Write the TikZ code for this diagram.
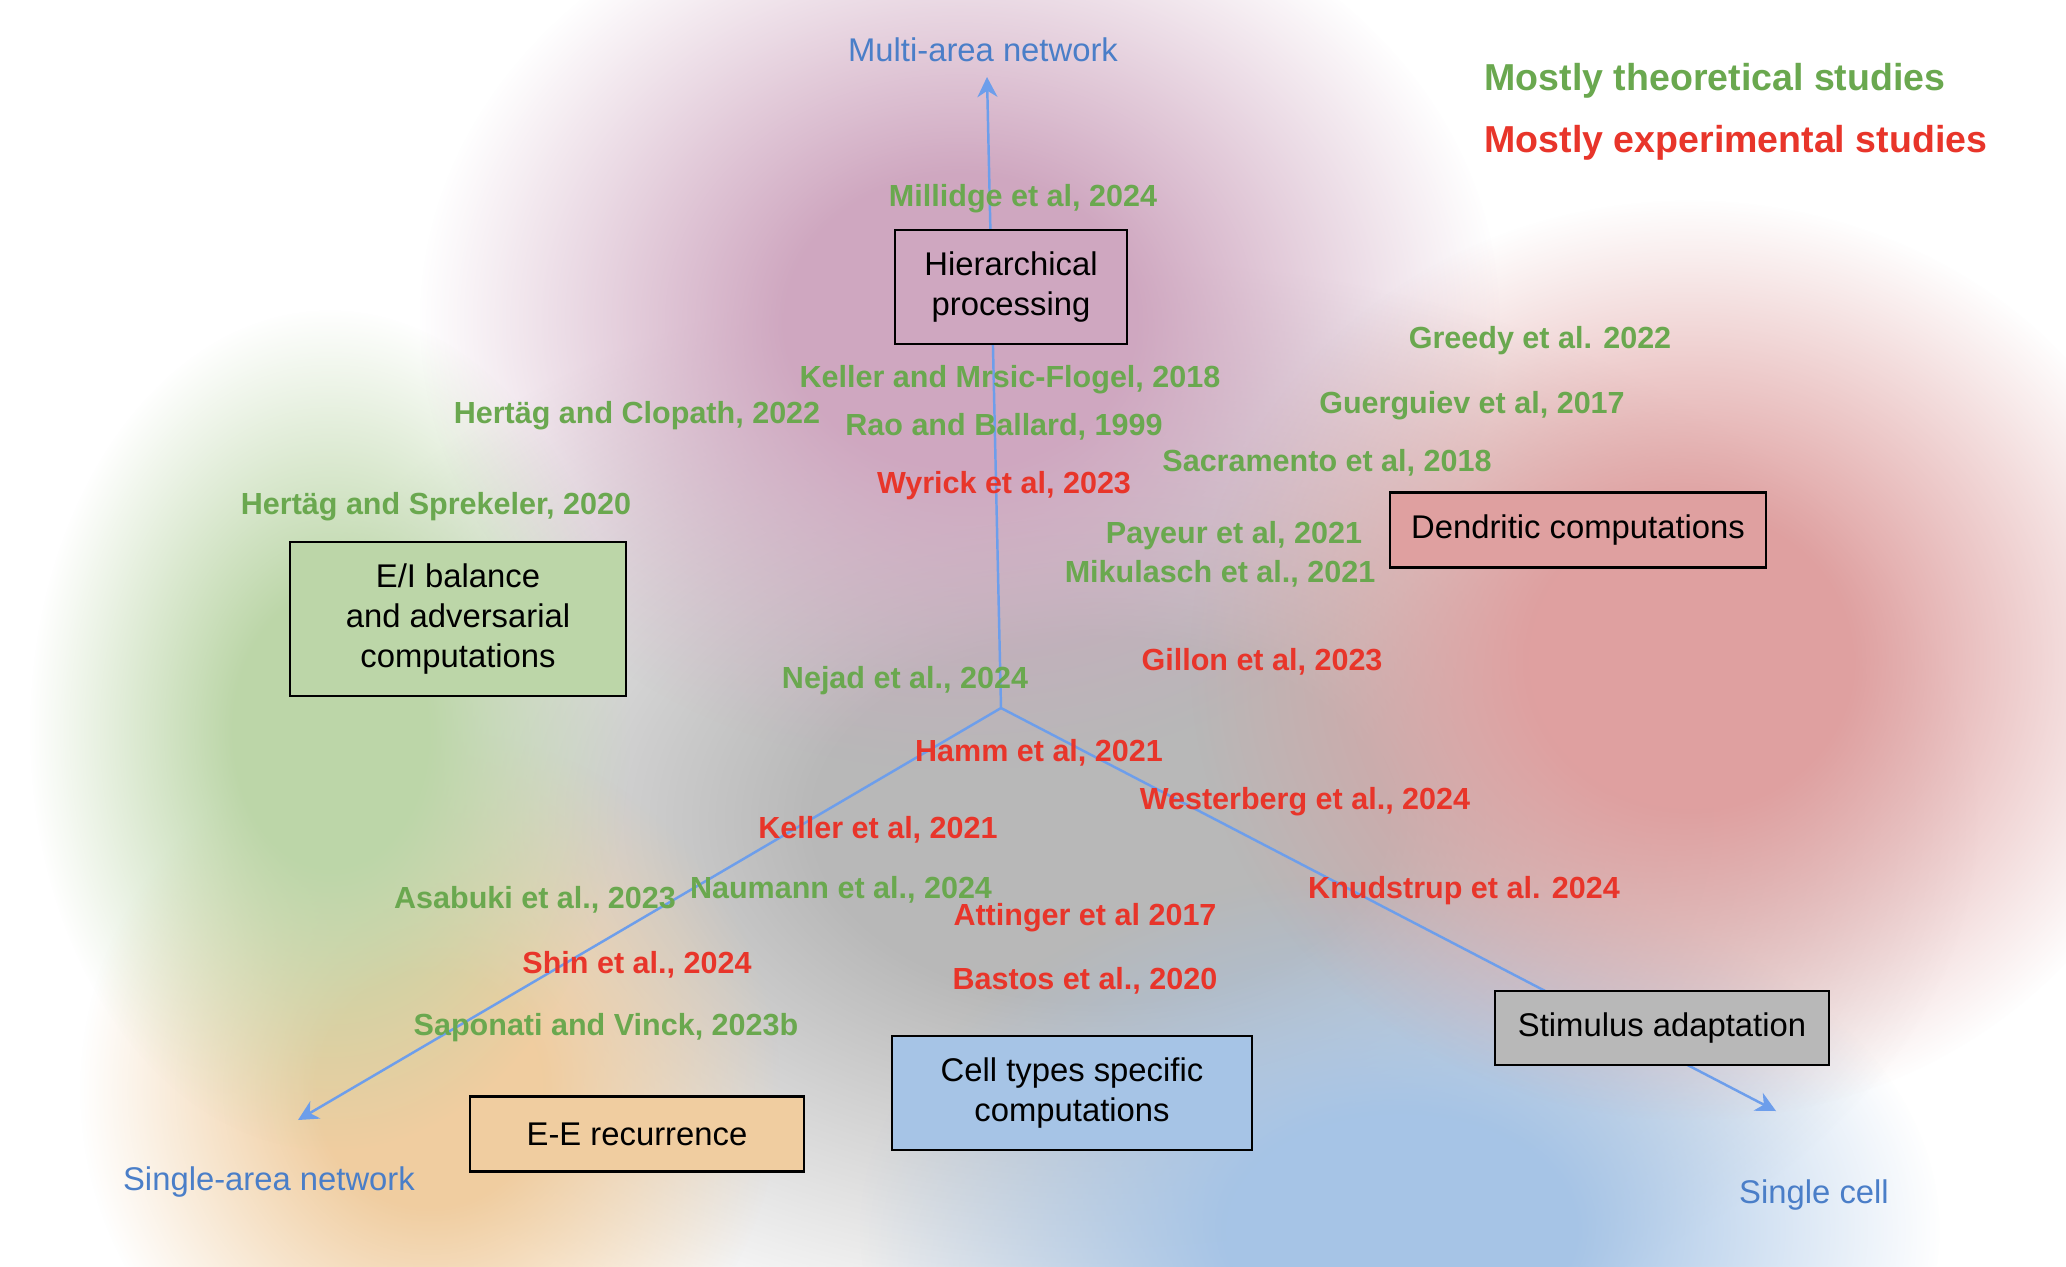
\documentclass[tikz,border=0pt]{standalone}
\usepackage{fontspec}
\setmainfont{Liberation Sans}
\usetikzlibrary{arrows.meta,fadings}

\definecolor{theorygreen}{HTML}{6AA84F}
\definecolor{exprred}{HTML}{E8352A}
\definecolor{axisblue}{HTML}{4A7EC8}
\definecolor{linkblue}{HTML}{6D9EEB}
\definecolor{hierfill}{HTML}{CFA7C0}
\definecolor{dendfill}{HTML}{DFA0A0}
\definecolor{eifill}{HTML}{BCD6A8}
\definecolor{eefill}{HTML}{F0CDA0}
\definecolor{cellfill}{HTML}{A6C4E6}
\definecolor{stimfill}{HTML}{B8B8B8}

\pgfdeclareradialshading{blobshading}{\pgfpointorigin}{color(0bp)=(white); color(8bp)=(white); color(25bp)=(black); color(50bp)=(black)}
\pgfdeclarefading{blobfade}{\pgfuseshading{blobshading}}

\begin{document}
\begin{tikzpicture}[x=0.01cm, y=-0.01cm,
    blob/.style={fill=#1, path fading=blobfade},
    topic/.style={draw=black, line width=0.6pt, fill=#1, align=center, inner sep=0pt,
        font=\fontsize{9.33}{11.4}\selectfont},
    theory/.style={text=theorygreen, inner sep=0pt, text height=6.25pt, text depth=0pt,
        font=\fontsize{8.68}{10}\selectfont\bfseries},
    expt/.style={theory, text=exprred},
    axislabel/.style={text=axisblue, inner sep=0pt, text height=6.7pt, text depth=0pt,
        font=\fontsize{9.33}{11}\selectfont},
    legend/.style={inner sep=0pt, anchor=west, text height=7.7pt, text depth=0pt,
        font=\fontsize{10.67}{12}\selectfont\bfseries},
    axis/.style={draw=linkblue, line width=0.7pt, -{Stealth[length=5.7pt, width=5.7pt, inset=1.8pt]}}]

    % Page and background blobs
    \useasboundingbox (0,0) rectangle (2066,1266);
    \fill[white] (0,0) rectangle (2066,1266);
    \fill[blob=stimfill] (1100,820) ellipse [x radius=880, y radius=560];
    \fill[blob=cellfill] (1400,1230) ellipse [x radius=540, y radius=360];
    \fill[blob=eefill] (430,1090) ellipse [x radius=350, y radius=360];
    \fill[blob=eifill] (330,730) ellipse [x radius=300, y radius=420];
    \fill[blob=hierfill] (960,320) ellipse [x radius=540, y radius=450];
    \fill[blob=dendfill] (1690,660) ellipse [x radius=500, y radius=460];

    % Draw the three axes
    \coordinate (hub) at (1001,708);
    \coordinate (multiend) at (987,77);
    \coordinate (singleend) at (298,1120);
    \coordinate (cellend) at (1776,1111);
    \draw[axis] (hub) -- (multiend);
    \draw[axis] (hub) -- (singleend);
    \draw[axis] (hub) -- (cellend);

    % Axis labels
    \node[axislabel] (multilabel) at (983,50) {Multi-area network};
    \node[axislabel] (singlelabel) at (269,1179) {Single-area network};
    \node[axislabel] (celllabel) at (1814,1192) {Single cell};

    % Topic boxes
    \node[topic=hierfill, minimum width=2.32cm, minimum height=1.14cm] (hier) at (1011,287) {Hierarchical\\processing};
    \node[topic=eifill, minimum width=3.35cm, minimum height=1.54cm] (ei) at (458,619) {E/I balance\\and adversarial\\computations};
    \node[topic=dendfill, minimum width=3.75cm, minimum height=0.75cm] (dend) at (1578,530) {Dendritic computations};
    \node[topic=eefill, minimum width=3.34cm, minimum height=0.75cm] (ee) at (637,1134) {E-E recurrence};
    \node[topic=cellfill, minimum width=3.59cm, minimum height=1.14cm] (cell) at (1072,1093) {Cell types specific\\computations};
    \node[topic=stimfill, minimum width=3.34cm, minimum height=0.74cm] (stim) at (1662,1028) {Stimulus adaptation};

    % Mostly theoretical studies
    \node[theory] (millidge) at (1023,196) {Millidge et al, 2024};
    \node[theory] (kellermf) at (1010,376) {Keller and Mrsic-Flogel, 2018};
    \node[theory] (hertagc) at (637,412) {Hertäg and Clopath, 2022};
    \node[theory] (rao) at (1004,424) {Rao and Ballard, 1999};
    \node[theory] (hertags) at (436,503) {Hertäg and Sprekeler, 2020};
    \node[theory] (greedy) at (1540,337) {Greedy et al. 2022};
    \node[theory] (guerguiev) at (1472,402) {Guerguiev et al, 2017};
    \node[theory] (sacramento) at (1327,460) {Sacramento et al, 2018};
    \node[theory] (payeur) at (1234,532) {Payeur et al, 2021};
    \node[theory] (mikulasch) at (1220,571) {Mikulasch et al., 2021};
    \node[theory] (nejad) at (905,677) {Nejad et al., 2024};
    \node[theory] (asabuki) at (535,897) {Asabuki et al., 2023};
    \node[theory] (naumann) at (841,887) {Naumann et al., 2024};
    \node[theory] (saponati) at (606,1024) {Saponati and Vinck, 2023b};

    % Mostly experimental studies
    \node[expt] (wyrick) at (1004,482) {Wyrick et al, 2023};
    \node[expt] (gillon) at (1262,659) {Gillon et al, 2023};
    \node[expt] (hamm) at (1039,750) {Hamm et al, 2021};
    \node[expt] (westerberg) at (1305,798) {Westerberg et al., 2024};
    \node[expt] (keller) at (878,827) {Keller et al, 2021};
    \node[expt] (knudstrup) at (1464,887) {Knudstrup et al. 2024};
    \node[expt] (attinger) at (1085,914) {Attinger et al 2017};
    \node[expt] (shin) at (637,962) {Shin et al., 2024};
    \node[expt] (bastos) at (1085,978) {Bastos et al., 2020};

    % Legend
    \node[legend, text=theorygreen] (legtheory) at (1484,77) {Mostly theoretical studies};
    \node[legend, text=exprred] (legexpt) at (1484,139) {Mostly experimental studies};
\end{tikzpicture}
\end{document}
